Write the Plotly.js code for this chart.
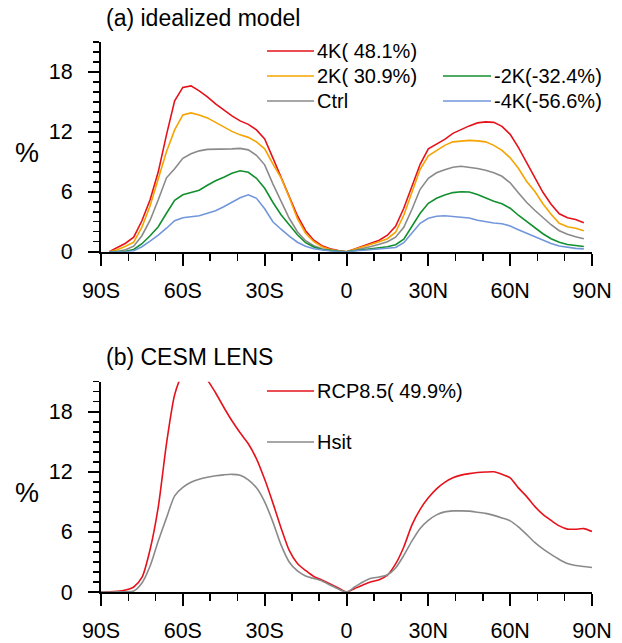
<!DOCTYPE html>
<html>
<head>
<meta charset="utf-8">
<script src="https://cdn.plot.ly/plotly-3.0.1.min.js"></script>
<style>html,body{margin:0;padding:0;background:#fff;}#chart{width:622px;height:643px;}</style>
</head>
<body>
<div id="chart"></div>
<script>
// ---------- DATA ----------
// Panel (a): idealized model, latitude grid (deg, negative = south)
const latA = [-87,-84,-81,-78,-75,-72,-69,-66,-63,-60,-57,-54,-51,-48,-45,-42,-39,-36,-33,-30,-27,-24,-21,-18,-15,-12,-9,-6,-3,0,
              3,6,9,12,15,18,21,24,27,30,33,36,39,42,45,48,51,54,57,60,63,66,69,72,75,78,81,84,87];
const k4p = [0,0.4,0.85,1.45,3.1,5.2,8.0,11.7,15.1,16.45,16.6,16.1,15.5,14.8,14.2,13.6,13.1,12.75,12.2,11.3,9.4,7.5,5.5,3.6,2.1,1.15,0.6,0.3,0.12,0,
             0.28,0.55,0.82,1.15,1.65,2.55,4.35,6.6,8.75,10.3,10.8,11.25,11.85,12.25,12.6,12.9,13.0,12.95,12.55,11.75,10.45,8.95,7.45,5.95,4.75,3.8,3.4,3.22,2.9];
const k2p = [0,0.2,0.55,0.95,2.45,4.6,7.3,10.0,12.2,13.7,13.9,13.7,13.4,12.95,12.55,12.05,11.7,11.45,11.0,10.3,8.8,7.4,5.45,3.3,1.85,1.0,0.5,0.22,0.08,0,
             0.25,0.48,0.72,1.0,1.3,1.95,3.65,5.9,8.25,9.6,10.15,10.65,11.0,11.1,11.15,11.1,11.0,10.65,10.15,9.4,8.35,7.05,6.05,4.8,3.75,2.85,2.5,2.35,2.1];
const ctrl = [0,0.02,0.2,0.55,1.6,3.15,5.2,7.4,8.3,9.35,9.8,10.1,10.25,10.25,10.25,10.3,10.35,10.2,9.65,8.7,6.8,5.0,3.35,2.0,1.1,0.6,0.3,0.15,0.05,0,
              0.15,0.32,0.52,0.75,1.0,1.45,2.45,4.25,6.25,7.35,7.9,8.2,8.45,8.55,8.45,8.33,8.15,7.9,7.55,6.9,5.9,4.95,4.15,3.4,2.7,2.1,1.75,1.5,1.3];
const k2m = [0,0,0.05,0.22,0.8,1.6,2.5,3.85,5.15,5.7,5.93,6.15,6.65,7.1,7.45,7.85,8.1,7.95,7.35,6.35,4.95,3.7,2.7,1.7,0.9,0.48,0.22,0.1,0.03,0,
             0.1,0.2,0.3,0.4,0.5,0.7,1.25,2.55,3.85,4.85,5.35,5.68,5.92,6.0,5.98,5.72,5.38,5.05,4.8,4.35,3.65,3.05,2.4,1.8,1.3,0.95,0.72,0.6,0.52];
const k4m = [0,0,0,0.1,0.5,1.05,1.65,2.35,3.1,3.4,3.5,3.6,3.85,4.1,4.5,4.95,5.4,5.7,5.35,4.3,3.0,2.25,1.55,0.95,0.55,0.3,0.15,0.07,0.02,0,
             0.07,0.13,0.18,0.24,0.31,0.42,0.9,1.9,2.85,3.35,3.55,3.6,3.55,3.48,3.38,3.15,3.0,2.88,2.8,2.58,2.2,1.85,1.5,1.18,0.82,0.57,0.42,0.33,0.28];
const namesA = ["4K( 48.1%)","2K( 30.9%)","Ctrl","-2K(-32.4%)","-4K(-56.6%)"];

// Panel (b): CESM LENS
const latB = [-90,-87,-84,-81,-78,-75,-72,-69,-66,-63,-60,-57,-54,-51,-48,-45,-42,-39,-36,-33,-30,-27,-24,-21,-18,-15,-12,-9,-6,-3,0,
              3,6,9,12,15,18,21,24,27,30,33,36,39,42,45,48,51,54,57,60,63,66,69,72,75,78,81,84,87,90];
const rcp85 = [0,0.02,0.07,0.2,0.5,1.45,4.25,8.5,14.8,19.7,21.9,23.2,22.5,21.2,19.9,18.45,17.1,15.9,14.8,13.3,11.25,8.9,6.4,4.15,2.85,2.15,1.55,1.2,0.8,0.4,0,
               0.35,0.7,1.02,1.23,1.68,2.8,4.5,6.7,8.25,9.4,10.3,10.95,11.4,11.67,11.82,11.93,11.98,12.0,11.75,11.4,10.4,9.55,8.55,7.75,7.15,6.6,6.28,6.27,6.33,6.05];
const hsit = [0,0,0.01,0.03,0.1,0.9,2.6,5.1,7.4,9.6,10.45,10.95,11.25,11.45,11.6,11.7,11.75,11.65,11.2,10.4,9.0,7.0,4.7,3.0,2.1,1.6,1.35,1.1,0.7,0.3,0,
              0.5,1.0,1.38,1.5,1.72,2.4,3.65,5.1,6.35,7.15,7.7,8.0,8.1,8.1,8.08,7.97,7.85,7.65,7.4,7.1,6.5,5.75,4.95,4.3,3.75,3.25,2.85,2.65,2.55,2.45];
const namesB = ["RCP8.5( 49.9%)","Hsit"];

const xTickVals = [-90,-60,-30,0,30,60,90];
const xTickText = ["90S","60S","30S","0","30N","60N","90N"];
const yTickVals = [0,6,12,18];

// ---------- STYLE / LAYOUT ----------
const C = {red:"#e5121b", orange:"#f5a402", gray:"#8a8a8a", green:"#12902e", blue:"#7296db"};
const FONT = "Liberation Sans, Arial, Helvetica, sans-serif";
const W = 622, H = 643, L = 101, R = 30, T = 42, B = 51;
const PW = W - L - R, PH = H - T - B;
const px = v => (v - L) / PW;
const py = v => (H - B - v) / PH;

const lw = 1.6;
function tr(x, y, name, color, xa, ya, smooth) {
  const line = {color: color, width: lw};
  if (smooth) { line.shape = "spline"; line.smoothing = 0.7; }
  return {x: x, y: y, name: name, type: "scatter", mode: "lines",
          line: line, xaxis: xa, yaxis: ya, showlegend: false, hoverinfo: "skip"};
}
const series = [k4p, k2p, ctrl, k2m, k4m];
const colA = [C.red, C.orange, C.gray, C.green, C.blue];
const data = [];
series.forEach((s, i) => data.push(tr(latA, s, namesA[i], colA[i], "x", "y", false)));
data.push(tr(latB, rcp85, namesB[0], C.red, "x2", "y2", true));
data.push(tr(latB, hsit, namesB[1], C.gray, "x2", "y2", true));

function xax(anchor) {
  return {range: [-90, 90], anchor: anchor, showline: true, linewidth: 2, linecolor: "#000",
          ticks: "outside", ticklen: 12, tickwidth: 2, tickcolor: "#000",
          tickvals: xTickVals, ticktext: xTickText, showgrid: false, zeroline: false,
          ticklabelstandoff: 6,
          tickfont: {family: FONT, size: 21.5, color: "#000"},
          minor: {dtick: 10, tick0: -90, ticks: "outside", ticklen: 7, tickwidth: 1.5, tickcolor: "#000", showgrid: false}};
}
function yax(anchor, dom) {
  return {range: [0, 21], domain: dom, anchor: anchor, showline: true, linewidth: 2, linecolor: "#000",
          ticks: "outside", ticklen: 11, tickwidth: 2, tickcolor: "#000",
          tickvals: yTickVals, showgrid: false, zeroline: false,
          ticklabelstandoff: 11,
          tickfont: {family: FONT, size: 21.5, color: "#000"},
          minor: {dtick: 1, ticks: "outside", ticklen: 6, tickwidth: 1.5, tickcolor: "#000", showgrid: false}};
}

const annotations = [];
const shapes = [];
function txt(text, x, y, size, anchor) {
  annotations.push({text: text, xref: "paper", yref: "paper", x: px(x), y: py(y),
                    xanchor: anchor || "left", yanchor: "middle", showarrow: false,
                    font: {family: FONT, size: size, color: "#000"}});
}
function legendItem(label, color, x0, x1, y) {
  shapes.push({type: "line", xref: "paper", yref: "paper", x0: px(x0), x1: px(x1), y0: py(y), y1: py(y),
               line: {color: color, width: lw}});
  txt(label, x1 + 1, y, 20);
}
txt("(a) idealized model", 104, 18, 23);
txt("(b) CESM LENS", 104, 357, 23);
txt("%", 27, 153, 27, "center");
txt("%", 27, 493, 27, "center");
legendItem(namesA[0], C.red, 267, 314, 51);
legendItem(namesA[1], C.orange, 267, 314, 76);
legendItem(namesA[2], C.gray, 267, 314, 101);
legendItem(namesA[3], C.green, 443, 491, 76);
legendItem(namesA[4], C.blue, 443, 491, 101);
legendItem(namesB[0], C.red, 267, 314, 391);
legendItem(namesB[1], C.gray, 267, 314, 442);

const topBottom = py(251.7), botTop = py(381.7);
const layout = {
  width: W, height: H, margin: {l: L, r: R, t: T, b: B, pad: 0},
  paper_bgcolor: "#fff", plot_bgcolor: "#fff", showlegend: false,
  font: {family: FONT, color: "#000"},
  xaxis: xax("y"), yaxis: yax("x", [topBottom, 1]),
  xaxis2: xax("y2"), yaxis2: yax("x2", [0, botTop]),
  annotations: annotations, shapes: shapes
};
Plotly.newPlot("chart", data, layout, {displayModeBar: false, staticPlot: true});
</script>
</body>
</html>
